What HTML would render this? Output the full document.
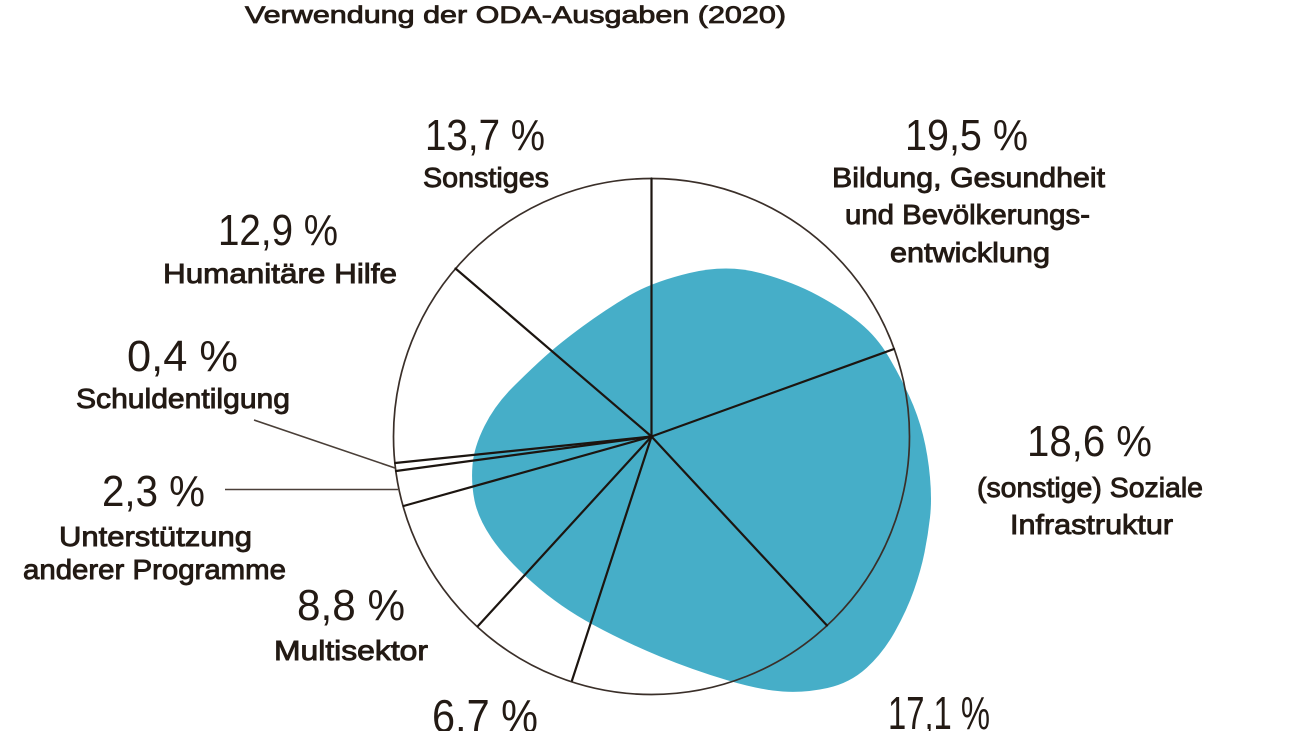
<!DOCTYPE html>
<html>
<head>
<meta charset="utf-8">
<style>
  html,body{margin:0;padding:0;background:#ffffff;}
  body{width:1300px;height:731px;overflow:hidden;}
  svg{display:block;}
  .num{font-family:"Liberation Sans",sans-serif;font-size:44px;font-weight:normal;fill:#231a14;}
  .lab{font-family:"Liberation Sans",sans-serif;font-size:28px;font-weight:normal;fill:#231a14;stroke:#231a14;stroke-width:0.9px;}
  .ttl{font-family:"Liberation Sans",sans-serif;font-size:24px;font-weight:normal;fill:#231a14;stroke:#231a14;stroke-width:0.8px;}
</style>
</head>
<body>
<svg width="1300" height="731" viewBox="0 0 1300 731" xmlns="http://www.w3.org/2000/svg">
  <rect x="0" y="0" width="1300" height="731" fill="#ffffff"/>

  <!-- blue blob -->
  <path fill="#46aec8" d="M689.5,273 Q727,264 760,273 Q793,282 818,295.5 Q843,309 860,323 Q877,337 888.5,356.5 Q900,376 909,395.5 Q918,415 923,435 Q928,455 930,477.5 Q932,500 930,517.5 Q928,535 924.5,552.5 Q921,570 914,590 Q907,610 895,631.5 Q883,653 866.5,668 Q850,683 827.5,688 Q805,693 782.5,691.5 Q760,690 726.5,680 Q693,670 660,656.5 Q627,643 593.5,625 Q560,607 532.5,582.5 Q505,558 491.5,538 Q478,518 474.5,500.5 Q471,483 472.5,465 Q474,447 484.5,426 Q495,405 512.5,387.5 Q530,370 545,356.5 Q560,343 582.5,326.5 Q605,310 628.5,296 Q652,282 689.5,273 Z"/>

  <!-- pie circle -->
  <circle cx="651.5" cy="436.5" r="258" fill="none" stroke="#3a2f29" stroke-width="1.7"/>

  <!-- radial lines -->
  <g stroke="#1c1510" stroke-width="2.2" stroke-linecap="round">
    <line x1="651.5" y1="436.5" x2="651.5" y2="178.5"/>
    <line x1="651.5" y1="436.5" x2="894" y2="349"/>
    <line x1="651.5" y1="436.5" x2="827" y2="625.5"/>
    <line x1="651.5" y1="436.5" x2="572" y2="680.5"/>
    <line x1="651.5" y1="436.5" x2="478" y2="626"/>
    <line x1="651.5" y1="436.5" x2="403.5" y2="506"/>
    <line x1="651.5" y1="436.5" x2="396" y2="471"/>
    <line x1="651.5" y1="436.5" x2="395.2" y2="463"/>
    <line x1="651.5" y1="436.5" x2="455.5" y2="268.5"/>
  </g>

  <!-- leader lines -->
  <g stroke="#4a3f38" stroke-width="1.6">
    <line x1="254" y1="420" x2="395" y2="468"/>
    <line x1="225" y1="489.5" x2="398" y2="489.5"/>
  </g>

  <!-- title -->
  <text class="ttl" x="245" y="23" textLength="541" lengthAdjust="spacingAndGlyphs">Verwendung der ODA-Ausgaben (2020)</text>

  <!-- labels -->
  <text class="num" x="425" y="150" textLength="120" lengthAdjust="spacingAndGlyphs">13,7 %</text>
  <text class="lab" x="423" y="187" textLength="126" lengthAdjust="spacingAndGlyphs">Sonstiges</text>

  <text class="num" x="905" y="150" textLength="123" lengthAdjust="spacingAndGlyphs">19,5 %</text>
  <text class="lab" x="832" y="187" textLength="273" lengthAdjust="spacingAndGlyphs">Bildung, Gesundheit</text>
  <text class="lab" x="845" y="224" textLength="245" lengthAdjust="spacingAndGlyphs">und Bevölkerungs-</text>
  <text class="lab" x="890" y="262" textLength="160" lengthAdjust="spacingAndGlyphs">entwicklung</text>

  <text class="num" x="218" y="245" textLength="120" lengthAdjust="spacingAndGlyphs">12,9 %</text>
  <text class="lab" x="163" y="283" textLength="234" lengthAdjust="spacingAndGlyphs">Humanitäre Hilfe</text>

  <text class="num" x="127" y="371" textLength="111" lengthAdjust="spacingAndGlyphs">0,4 %</text>
  <text class="lab" x="76" y="408" textLength="214" lengthAdjust="spacingAndGlyphs">Schuldentilgung</text>

  <text class="num" x="102" y="506" textLength="103" lengthAdjust="spacingAndGlyphs">2,3 %</text>
  <text class="lab" x="59" y="546" textLength="193" lengthAdjust="spacingAndGlyphs">Unterstützung</text>
  <text class="lab" x="23" y="579" textLength="263" lengthAdjust="spacingAndGlyphs">anderer Programme</text>

  <text class="num" x="297" y="620" textLength="108" lengthAdjust="spacingAndGlyphs">8,8 %</text>
  <text class="lab" x="274" y="660" textLength="154" lengthAdjust="spacingAndGlyphs">Multisektor</text>

  <text class="num" x="432" y="732" style="font-size:46px" textLength="106" lengthAdjust="spacingAndGlyphs">6,7 %</text>
  <text class="num" x="888" y="729" style="font-size:46px" textLength="102" lengthAdjust="spacingAndGlyphs">17,1 %</text>

  <text class="num" x="1027" y="456" textLength="125" lengthAdjust="spacingAndGlyphs">18,6 %</text>
  <text class="lab" x="977" y="497" textLength="226" lengthAdjust="spacingAndGlyphs">(sonstige) Soziale</text>
  <text class="lab" x="1010" y="534" textLength="163" lengthAdjust="spacingAndGlyphs">Infrastruktur</text>
</svg>
</body>
</html>
